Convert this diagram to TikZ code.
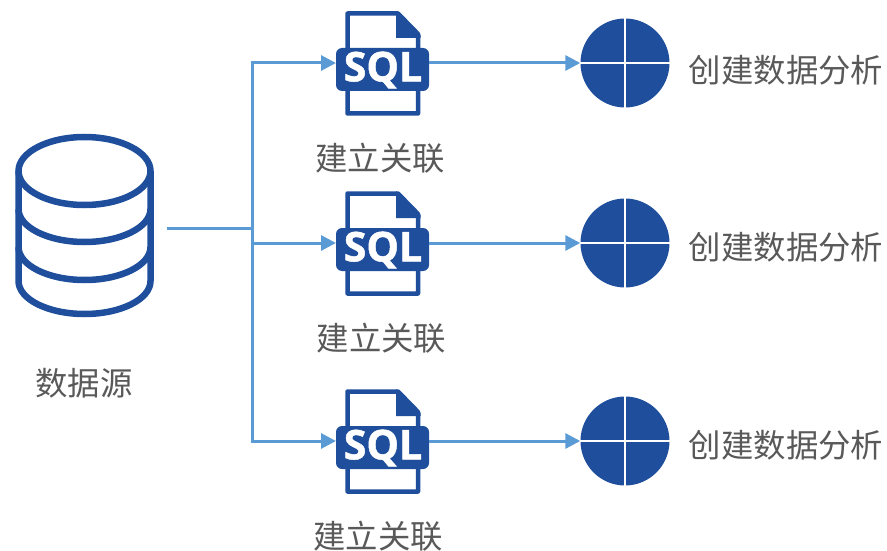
\documentclass[tikz,border=0pt]{standalone}
\usepackage{fontspec}
\setmainfont{Noto Sans CJK SC}
\newfontfamily\sqlfont[BoldFeatures={FakeBold=1.2}]{Open Sans}
\usetikzlibrary{arrows.meta}
\definecolor{iconblue}{HTML}{1F4E9C}
\definecolor{linkblue}{HTML}{5B9BD5}
\definecolor{labelgray}{HTML}{595959}
\tikzset{
  x=1pt,y=-1pt,
  link/.style={draw=linkblue,line width=3pt},
  linkarrow/.style={link,-{Triangle[length=15pt,width=15pt]}},
  label/.style={text=labelgray,font=\fontsize{32.4}{36}\selectfont,inner sep=0pt},
  sqlbox/.style={fill=iconblue,rounded corners=6pt},
  sqlword/.style={text=white,font=\sqlfont\bfseries\fontsize{41}{41}\selectfont,inner sep=0pt},
  sourceline/.style={draw=iconblue,line width=6.5pt},
  hub/.style={circle,fill=iconblue,minimum size=89pt,inner sep=0pt},
  cross/.style={draw=white,line width=1.7pt},
}
\begin{document}
\begin{tikzpicture}
\useasboundingbox (0,0) rectangle (887,551);
% database
\draw[sourceline] (84.5,171) ellipse [x radius=66,y radius=34];
\draw[sourceline] (18.5,171) -- (18.5,281) arc[start angle=180,end angle=0,x radius=66,y radius=33] -- (150.5,171);
\draw[sourceline] (18.5,209) arc[start angle=180,end angle=0,x radius=66,y radius=33];
\draw[sourceline] (18.5,247) arc[start angle=180,end angle=0,x radius=66,y radius=33];
\coordinate (src) at (167,228);
\coordinate (junction) at (252,228);
\node[label] (srclabel) at (84,383) {数据源};
% rows
\foreach \n/\y/\lx/\ly/\ry in {a/63/380/158/70,b/243/381.5/338/247,c/441/378/536/445}{
  \begin{scope}[shift={(0,\y)}]
    \draw[iconblue,line width=4.5pt,line join=round,fill=white] (347.5,-49.5) -- (398,-49.5) -- (418,-29) -- (418,50.5) -- (347.5,50.5) -- cycle;
    \fill[iconblue,line join=round] (396,-52) -- (420.5,-28) -- (420.5,-25) -- (396,-25) -- cycle;
    \node[sqlbox,minimum width=93pt,minimum height=43pt,inner sep=0pt] (sql\n) at (382.5,6.5) {};
    \node[sqlword] (word\n) at (383,7) {SQL};
    \node[hub] (hub\n) at (625,0) {};
    \draw[cross] (hub\n.west) -- (hub\n.east);
    \draw[cross] (hub\n.north) -- (hub\n.south);
    \coordinate (in\n) at (336,0);
    \coordinate (out\n) at (429,0);
    \coordinate (tee\n) at (252,0);
  \end{scope}
  \node[label] (lab\n) at (\lx,\ly) {建立关联};
  \node[label] (res\n) at (786,\ry) {创建数据分析};
  \draw[linkarrow] (out\n) -- (hub\n.west);
  \draw[linkarrow] (tee\n) -- (in\n);
}
\draw[link] (src) -- (junction);
\draw[link,line cap=rect] (teea) -- (teec);
\end{tikzpicture}
\end{document}
